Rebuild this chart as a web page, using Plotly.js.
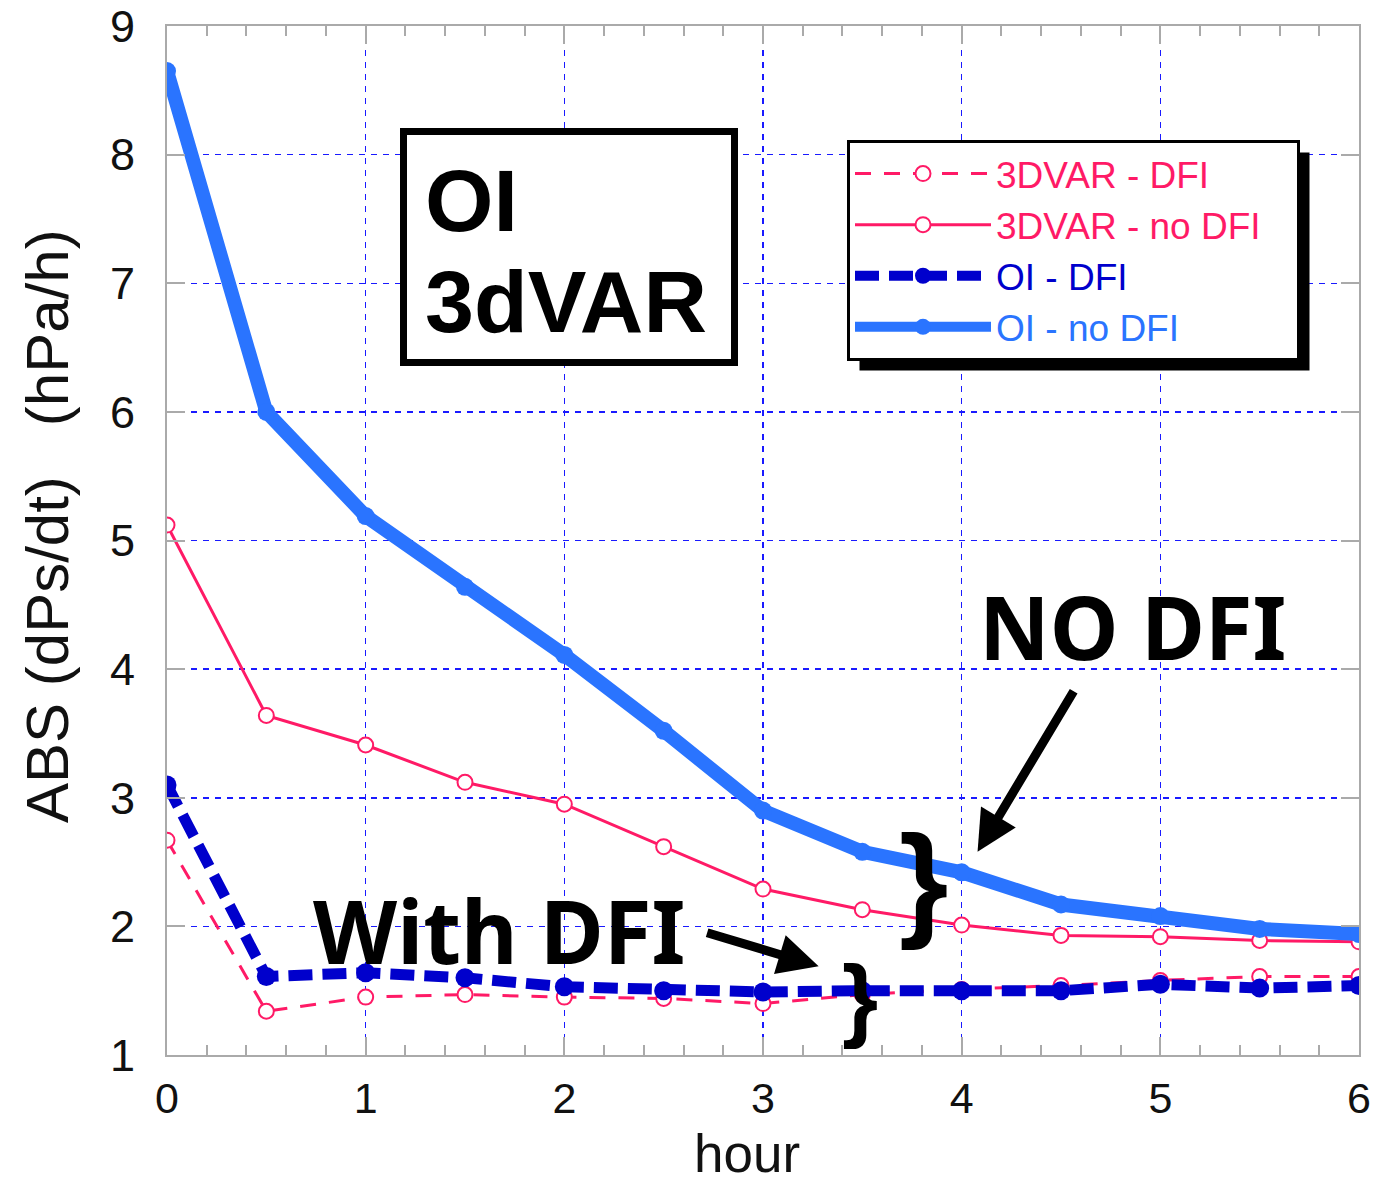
<!DOCTYPE html>
<html>
<head>
<meta charset="utf-8">
<script src="https://cdn.plot.ly/plotly-3.0.1.min.js"></script>
<style>
html,body{margin:0;padding:0;background:#fff;}
#chart{width:1381px;height:1184px;}
</style>
</head>
<body>
<div id="chart"></div>
<script>
// ---- data ----
const hours = [0, 0.5, 1, 1.5, 2, 2.5, 3, 3.5, 4, 4.5, 5, 5.5, 6];
const var3dDFI   = [2.67, 1.34, 1.45, 1.47, 1.45, 1.44, 1.40, 1.47, 1.51, 1.54, 1.58, 1.61, 1.61];
const var3dNoDFI = [5.12, 3.64, 3.41, 3.12, 2.95, 2.62, 2.29, 2.13, 2.01, 1.93, 1.92, 1.89, 1.88];
const oiDFI      = [3.10, 1.61, 1.64, 1.60, 1.53, 1.50, 1.49, 1.50, 1.50, 1.50, 1.55, 1.52, 1.54];
const oiNoDFI    = [8.65, 6.00, 5.19, 4.64, 4.11, 3.52, 2.90, 2.58, 2.42, 2.17, 2.08, 1.98, 1.94];
const seriesNames = ['3DVAR - DFI', '3DVAR - no DFI', 'OI - DFI', 'OI - no DFI'];
const xTickVals = [0, 1, 2, 3, 4, 5, 6];
const yTickVals = [1, 2, 3, 4, 5, 6, 7, 8, 9];
const xTitle = 'hour';
const yTitle = 'ABS (dPs/dt)\u00a0\u00a0\u00a0(hPa/h)';

const PINK = '#ff1a66';
const LBLUE = '#2a74ff';
const DBLUE = '#0000cc';

// plot-area geometry (pixels) used to place decorations in paper coordinates
const M = {l: 167, r: 22, t: 26, b: 129};
const PW = 1381 - M.l - M.r, PH = 1184 - M.t - M.b;
const px = x => (x - M.l) / PW;
const py = y => (1184 - M.b - y) / PH;

function nm(t, c, pad){ return '<span style="color:' + c + '">' + t + (pad || '') + '</span>'; }

const traces = [
  {x: hours, y: var3dDFI, name: nm(seriesNames[0], PINK), mode: 'lines+markers',
   line: {color: PINK, width: 3, dash: '16px,13px'},
   marker: {symbol: 'circle', size: 15, color: '#ffffff', line: {color: PINK, width: 2}}},
  {x: hours, y: var3dNoDFI, name: nm(seriesNames[1], PINK, '\u00a0\u00a0\u00a0\u200b'), mode: 'lines+markers',
   line: {color: PINK, width: 3},
   marker: {symbol: 'circle', size: 15, color: '#ffffff', line: {color: PINK, width: 2}}},
  {x: hours, y: oiDFI, name: nm(seriesNames[2], DBLUE), mode: 'lines+markers',
   line: {color: DBLUE, width: 11, dash: '24px,10px'},
   marker: {symbol: 'circle', size: 19, color: DBLUE}},
  {x: hours, y: oiNoDFI, name: nm(seriesNames[3], LBLUE), mode: 'lines+markers',
   line: {color: LBLUE, width: 14},
   marker: {symbol: 'circle', size: 18, color: LBLUE}}
];

const GRID = '#1a1aff';
const FRAME = '#aaaaaa';
const SANS = '"Liberation Sans", Arial, sans-serif';

const layout = {
  width: 1381, height: 1184,
  margin: M,
  paper_bgcolor: '#ffffff', plot_bgcolor: '#ffffff',
  font: {family: SANS, color: '#111'},
  showlegend: true,
  legend: {
    x: px(847), y: py(140), xanchor: 'left', yanchor: 'top',
    bgcolor: '#ffffff', bordercolor: '#000000', borderwidth: 3,
    font: {size: 37, family: SANS},
    itemwidth: 136, tracegroupgap: 0
  },
  xaxis: {
    range: [0, 6], tickvals: xTickVals, ticktext: xTickVals.map(String),
    showline: true, linecolor: FRAME, linewidth: 2, mirror: 'ticks',
    ticks: 'inside', ticklen: 18, tickcolor: FRAME, tickwidth: 2,
    minor: {dtick: 0.2, ticks: 'inside', ticklen: 10, tickcolor: FRAME, tickwidth: 2, showgrid: false},
    showgrid: true, gridcolor: GRID, gridwidth: 1.5, griddash: '6px,6px',
    zeroline: false,
    tickfont: {size: 43, color: '#111'}, ticklabelstandoff: 4
  },
  yaxis: {
    range: [1, 9], tickvals: yTickVals, ticktext: yTickVals.map(String),
    showline: true, linecolor: FRAME, linewidth: 2, mirror: 'ticks',
    ticks: 'inside', ticklen: 18, tickcolor: FRAME, tickwidth: 2,
    showgrid: true, gridcolor: GRID, gridwidth: 1.5, griddash: '6px,6px',
    zeroline: false,
    tickfont: {size: 45, color: '#111'}, ticklabelstandoff: 21,
    title: {text: '\u200b\u00a0\u2009' + yTitle, font: {size: 60, color: '#111'}, standoff: 22}
  },
  shapes: [
    // box around "OI / 3dVAR"
    {type: 'rect', xref: 'paper', yref: 'paper', x0: px(403.5), x1: px(734.5), y0: py(362.5), y1: py(131.5),
     fillcolor: '#ffffff', line: {color: '#000000', width: 7}, layer: 'above'}
  ],
  annotations: [
    // x-axis title (placed slightly left of centre, as in the original)
    {xref: 'paper', yref: 'paper', x: px(747), y: py(1123), xanchor: 'center', yanchor: 'top',
     text: xTitle, showarrow: false, borderpad: 0, font: {size: 53, family: SANS, color: '#111'}},
    {xref: 'paper', yref: 'paper', x: px(423), y: py(200), xanchor: 'left', yanchor: 'middle',
     text: '<b>OI</b>', showarrow: false, font: {size: 88, family: SANS, color: '#000'}},
    {xref: 'paper', yref: 'paper', x: px(423), y: py(302), xanchor: 'left', yanchor: 'middle',
     text: '<b>3dVAR</b>', showarrow: false, font: {size: 88, family: SANS, color: '#000'}},
    {x: 4.86, y: 4.336, xref: 'x', yref: 'y', text: '<b>NO DFI</b>', showarrow: false,
     font: {size: 87, family: '"Noto Sans", sans-serif', color: '#000'}},
    {x: 1.67, y: 1.972, xref: 'x', yref: 'y', text: '<b>With DFI</b>', showarrow: false,
     font: {size: 87, family: '"Noto Sans", sans-serif', color: '#000'}},
    {x: 4.08, y: 2.58, xref: 'x', yref: 'y', ax: 97, ay: -162, axref: 'pixel', ayref: 'pixel',
     text: '', showarrow: true, arrowhead: 2, arrowsize: 0.9, arrowwidth: 9, arrowcolor: '#000'},
    {x: 3.28, y: 1.69, xref: 'x', yref: 'y', ax: -113, ay: -34, axref: 'pixel', ayref: 'pixel',
     text: '', showarrow: true, arrowhead: 2, arrowsize: 0.9, arrowwidth: 9, arrowcolor: '#000'},
    {x: 3.81, y: 2.357, xref: 'x', yref: 'y', text: '<b>}</b>', showarrow: false,
     font: {size: 127, family: SANS, color: '#000'}},
    {x: 3.488, y: 1.446, xref: 'x', yref: 'y', text: '<b>}</b>', showarrow: false,
     font: {size: 93, family: SANS, color: '#000'}}
  ]
};

Plotly.newPlot('chart', traces, layout, {staticPlot: true}).then(gd => {
  // drop shadow behind the legend box, offset down-right
  const bg = gd.querySelector('.legend .bg');
  if (!bg) return;
  const r = bg.getBoundingClientRect();
  const c = gd.getBoundingClientRect();
  const x0 = r.left - c.left + 11, x1 = r.right - c.left + 11;
  const y0 = r.top - c.top + 11, y1 = r.bottom - c.top + 11;
  const shapes = layout.shapes.concat([{
    type: 'rect', xref: 'paper', yref: 'paper', x0: px(x0), x1: px(x1), y0: py(y1), y1: py(y0),
    fillcolor: '#000000', line: {width: 0}, layer: 'above'
  }]);
  return Plotly.relayout(gd, {shapes: shapes});
});
</script>
</body>
</html>
